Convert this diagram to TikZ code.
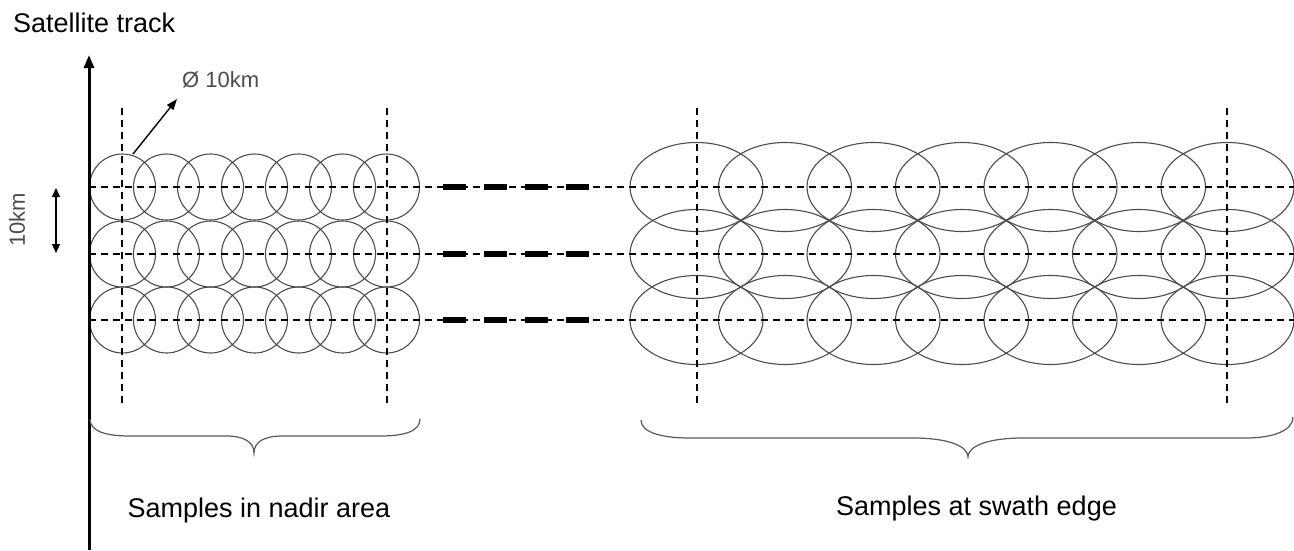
\documentclass[tikz,border=0pt]{standalone}
\usepackage{fontspec}
\setmainfont{Liberation Sans}
\usetikzlibrary{arrows.meta}
\tikzset{
footprint/.style={draw=black!70, line width=1.1pt},
gridline/.style={black, line width=1.4pt, dash pattern=on 7pt off 5pt},
gapdash/.style={black, line width=6pt, dash pattern=on 23pt off 18pt},
trackline/.style={line width=3pt, -{Triangle[length=13pt,width=10pt]}},
dimarrow/.style={line width=1.4pt, {Triangle[length=9pt,width=8pt]}-{Triangle[length=9pt,width=8pt]}},
diamarrow/.style={line width=1.4pt, -{Triangle[length=11pt,width=8pt]}},
bracket/.style={draw=black!65, line width=1.2pt},
biglabel/.style={font=\fontsize{27}{32}\selectfont, inner sep=0pt},
smalllabel/.style={font=\fontsize{22}{26}\selectfont, text=black!70, inner sep=0pt},
}

\begin{document}
\begin{tikzpicture}[x=1pt, y=-1pt]
        \useasboundingbox (0,0) rectangle (1294,550);

        % footprints
        \foreach \row in {187,254,320} {
            \foreach \i in {0,...,6} {
                \draw[footprint] (122.5+44*\i,\row) circle[radius=33pt];
                \draw[footprint] (696.5+88.5*\i,\row) ellipse[x radius=66.5pt, y radius=44.5pt];
            }
            \draw[gridline] (89,\row) -- (1294,\row);
            \draw[gapdash] (443,\row) -- (590,\row);
        }
        \foreach \col in {122,387,697,1227}
            \draw[gridline] (\col,108) -- (\col,404);

        % track axis
        \coordinate (trackbot) at (89,550);
        \coordinate (tracktop) at (89,55);
        \draw[trackline] (trackbot) -- (tracktop);
        \node[biglabel, anchor=base west] (track) at (13,32) {Satellite track};

        % footprint size
        \coordinate (diamfoot) at (133,154);
        \coordinate (diamtip) at (177,99);
        \draw[diamarrow] (diamfoot) -- (diamtip);
        \node[smalllabel, anchor=base west] (diam) at (182,87) {Ø 10km};

        % row spacing
        \coordinate (sptop) at (56,188);
        \coordinate (spbot) at (56,253);
        \draw[dimarrow] (sptop) -- (spbot);
        \node[smalllabel, rotate=90] (spacing) at (17,220) {10km};

        % braces
        \draw[bracket] (90,419) .. controls (90,431) and (105,436) .. (130,436)
            -- (226,436) .. controls (244,436) and (254,442) .. (254,453)
            .. controls (254,442) and (264,436) .. (282,436)
            -- (380,436) .. controls (405,436) and (420,431) .. (420,419);
        \draw[bracket] (641,420) .. controls (641,432) and (660,438) .. (690,438)
            -- (913,438) .. controls (948,438) and (968,446) .. (968,457)
            .. controls (968,446) and (988,438) .. (1023,438)
            -- (1245,438) .. controls (1275,438) and (1293,430) .. (1293,417);

        \node[biglabel, anchor=base] (nadir) at (259,517) {Samples in nadir area};
        \node[biglabel, anchor=base] (swath) at (976.5,515) {Samples at swath edge};
    \end{tikzpicture}
\end{document}
